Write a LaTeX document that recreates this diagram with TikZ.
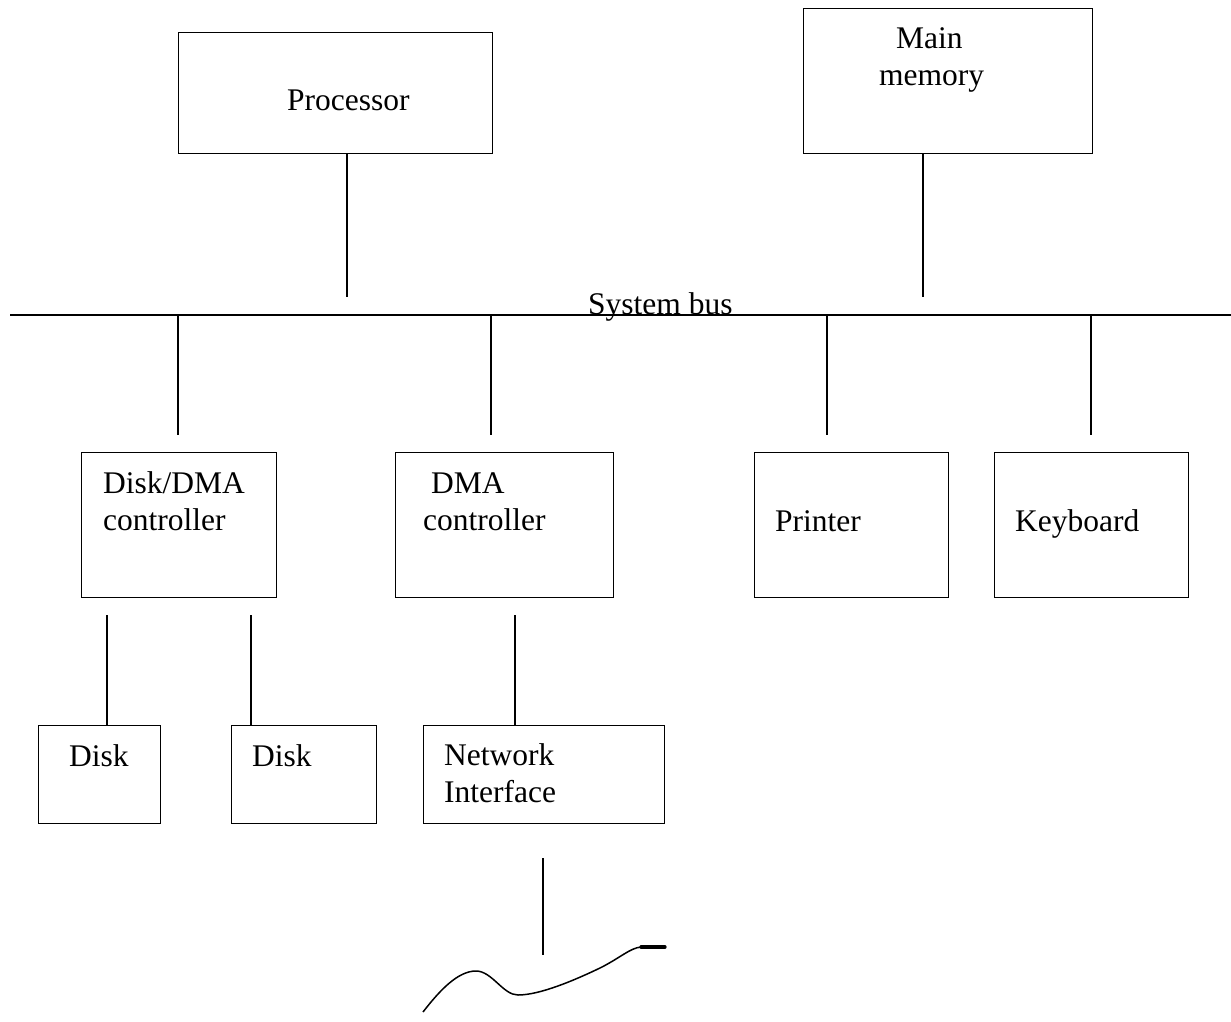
\documentclass[tikz,border=0pt]{standalone}
\usepackage{fontspec}
\setmainfont{Liberation Serif}
\begin{document}
\begin{tikzpicture}[x=1pt,y=-1pt,
  box/.style={draw, line width=1.1pt, inner sep=0pt, anchor=north west},
  txt/.style={anchor=base west, inner sep=0pt, font=\fontsize{31.5}{37}\selectfont},
  wire/.style={line width=1.4pt},
  busline/.style={line width=2pt}]
\useasboundingbox (0,0) rectangle (1231,1021);
% boxes
\node[box, minimum width=314pt, minimum height=121pt] (proc) at (178,32) {};
\node[box, minimum width=289pt, minimum height=145pt] (mem) at (803,8) {};
\node[box, minimum width=195pt, minimum height=145pt] (ddma) at (81,452) {};
\node[box, minimum width=218pt, minimum height=145pt] (dma) at (395,452) {};
\node[box, minimum width=194pt, minimum height=145pt] (prn) at (754,452) {};
\node[box, minimum width=194pt, minimum height=145pt] (kbd) at (994,452) {};
\node[box, minimum width=122pt, minimum height=98pt] (disk1) at (38,725) {};
\node[box, minimum width=145pt, minimum height=98pt] (disk2) at (231,725) {};
\node[box, minimum width=241pt, minimum height=98pt] (nic) at (423,725) {};
% texts
\node[txt] (proct) at (287,110) {Processor};
\node[txt] (memt1) at (896,48) {Main};
\node[txt] (memt2) at (879,85) {memory};
\node[txt] (ddmat1) at (103,493) {Disk/DMA};
\node[txt] (ddmat2) at (103,530) {controller};
\node[txt] (dmat1) at (431,493) {DMA};
\node[txt] (dmat2) at (423,530) {controller};
\node[txt] (prnt) at (775,531) {Printer};
\node[txt] (kbdt) at (1015,531) {Keyboard};
\node[txt] (disk1t) at (69,766) {Disk};
\node[txt] (disk2t) at (252,766) {Disk};
\node[txt] (nict1) at (444,765) {Network};
\node[txt] (nict2) at (444,802) {Interface};
% bus
\coordinate (busL) at (10,315);
\coordinate (busR) at (1231,315);
\draw[busline] (busL) -- (busR);
\node[txt] (bust) at (588,314) {System bus};
% connectors
\coordinate (pA) at (347,153); \coordinate (pB) at (347,297);
\coordinate (mA) at (923,153); \coordinate (mB) at (923,297);
\draw[wire] (pA) -- (pB);
\draw[wire] (mA) -- (mB);
\coordinate (b1A) at (178,316); \coordinate (b1B) at (178,435);
\coordinate (b2A) at (491,316); \coordinate (b2B) at (491,435);
\coordinate (b3A) at (827,316); \coordinate (b3B) at (827,435);
\coordinate (b4A) at (1091,316); \coordinate (b4B) at (1091,435);
\draw[wire] (b1A) -- (b1B);
\draw[wire] (b2A) -- (b2B);
\draw[wire] (b3A) -- (b3B);
\draw[wire] (b4A) -- (b4B);
\coordinate (d1A) at (107,615); \coordinate (d2A) at (251,615); \coordinate (nA) at (515,615);
\draw[wire] (d1A) -- (d1A |- disk1.north);
\draw[wire] (d2A) -- (d2A |- disk2.north);
\draw[wire] (nA) -- (nA |- nic.north);
\coordinate (netA) at (543,858); \coordinate (netB) at (543,955);
\draw[wire] (netA) -- (netB);
% network cable
\coordinate (c0) at (423,1012);
\coordinate (c1) at (476,971);
\coordinate (c2) at (518,995);
\coordinate (c3) at (600,968);
\coordinate (c4) at (641,947);
\coordinate (c5) at (665,947);
\draw[line width=1.5pt, line join=round] (c0) .. controls (440,990) and (458,971) .. (c1)
  .. controls (492,971) and (503,995) .. (c2)
  .. controls (540,995) and (575,980) .. (c3)
  .. controls (620,958) and (630,948) .. (c4);
\draw[line width=3.2pt, line cap=round] (c4) -- (c5);
\end{tikzpicture}
\end{document}
